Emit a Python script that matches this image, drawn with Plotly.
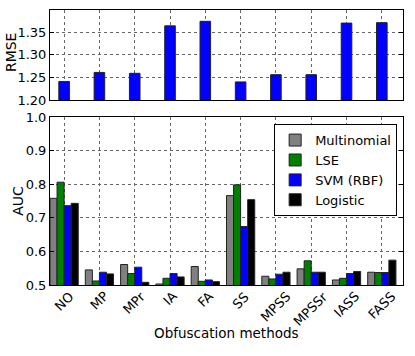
import plotly.graph_objects as go
from plotly.subplots import make_subplots

methods = ["NO", "MP", "MPr", "IA", "FA", "SS", "MPSS", "MPSSr", "IASS", "FASS"]

rmse = [1.241, 1.261, 1.259, 1.364, 1.374, 1.240, 1.256, 1.256, 1.370, 1.371]

auc_multinomial = [0.758, 0.545, 0.561, 0.503, 0.555, 0.766, 0.526, 0.548, 0.515, 0.538]
auc_lse = [0.806, 0.512, 0.534, 0.520, 0.511, 0.798, 0.518, 0.572, 0.520, 0.537]
auc_svm = [0.736, 0.538, 0.553, 0.534, 0.515, 0.674, 0.532, 0.538, 0.534, 0.537]
auc_logistic = [0.743, 0.533, 0.508, 0.524, 0.510, 0.754, 0.538, 0.538, 0.540, 0.574]

series = [
    ("Multinomial", auc_multinomial, "#808080"),
    ("LSE", auc_lse, "#008000"),
    ("SVM (RBF)", auc_svm, "#0000ff"),
    ("Logistic", auc_logistic, "#000000"),
]

FONT = "DejaVu Sans"

fig = make_subplots(rows=2, cols=1)

fig.add_trace(go.Bar(
    x=methods, y=rmse, marker=dict(color="#0000ff", line=dict(color="#222", width=1)),
    showlegend=False, width=0.3,
), row=1, col=1)

for name, vals, color in series:
    fig.add_trace(go.Bar(
        x=methods, y=vals, name=name,
        marker=dict(color=color, line=dict(color="#222", width=1)),
    ), row=2, col=1)

axis_common = dict(
    showline=True, linecolor="black", linewidth=1, mirror="ticks",
    ticks="inside", ticklen=4, tickcolor="black",
    showgrid=True, gridcolor="#666", griddash="dot", gridwidth=1,
    zeroline=False, automargin=False,
    tickfont=dict(family=FONT, size=13, color="black"),
)

fig.update_xaxes(axis_common)
fig.update_yaxes(axis_common)

fig.update_xaxes(range=[-0.4, 9.6], showticklabels=False, ticks="", mirror=True)
fig.update_yaxes(range=[1.2, 1.399], dtick=0.05, tickformat=".2f", row=1, col=1)
fig.update_yaxes(range=[0.5, 1.0], dtick=0.1, tickformat=".1f", row=2, col=1)

# rotated category labels, centred under each tick (matplotlib style)
for m in methods:
    fig.add_annotation(
        x=m, xref="x2", y=0, yref="paper", yshift=-1,
        text=m, textangle=-45, showarrow=False,
        xanchor="center", yanchor="top",
        font=dict(family=FONT, size=13, color="black"),
    )

# axis titles
fig.add_annotation(x=-0.1105, y=0.847, xref="paper", yref="paper", text="RMSE",
                   textangle=-90, showarrow=False, xanchor="center", yanchor="middle",
                   font=dict(family=FONT, size=14, color="black"))
fig.add_annotation(x=-0.089, y=0.305, xref="paper", yref="paper", text="AUC",
                   textangle=-90, showarrow=False, xanchor="center", yanchor="middle",
                   font=dict(family=FONT, size=14, color="black"))
fig.add_annotation(x=0.5, y=-0.1745, xref="paper", yref="paper", text="Obfuscation methods",
                   showarrow=False, xanchor="center", yanchor="middle",
                   font=dict(family=FONT, size=13.5, color="black"))

fig.update_layout(
    width=415, height=356,
    margin=dict(l=50, r=12, t=10, b=71),
    barmode="group", bargap=0.2, bargroupgap=0,
    plot_bgcolor="white", paper_bgcolor="white",
    font=dict(family=FONT, size=13, color="black"),
    legend=dict(
        x=0.635, y=0.585, xanchor="left", yanchor="top",
        bgcolor="white", bordercolor="black", borderwidth=1,
        font=dict(family=FONT, size=13, color="black"),
        tracegroupgap=0,
    ),
)
fig.update_layout(
    yaxis=dict(domain=[0.6727, 1.0]),
    yaxis2=dict(domain=[0.0, 0.6109]),
)

# drop the default 8px page margin so the figure sits at the window corner
fig.write_html("out.html", config={"displayModeBar": False},
               post_script="document.body.style.margin='0';")
